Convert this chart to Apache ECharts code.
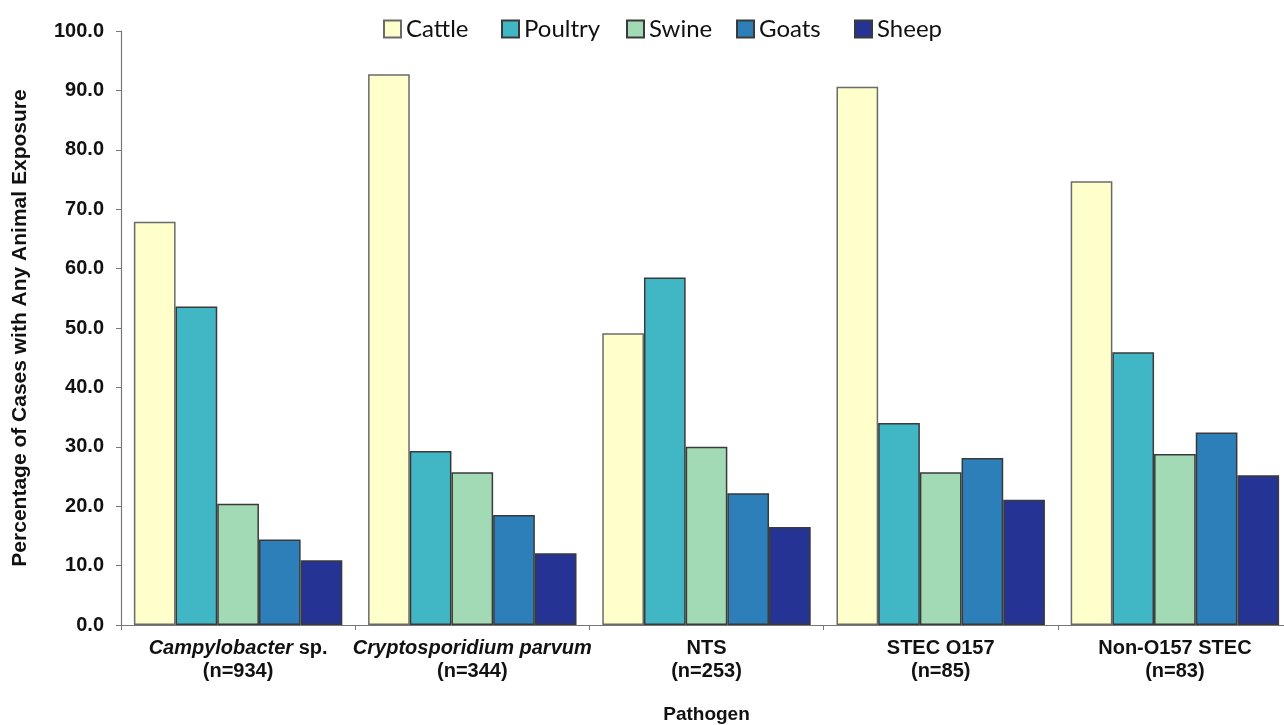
<!DOCTYPE html>
<html>
<head>
<meta charset="utf-8">
<script src="https://cdn.jsdelivr.net/npm/echarts@6/dist/echarts.min.js"></script>
<style>
html,body{margin:0;padding:0;background:#fff;}
#chart{width:1284px;height:725px;}
</style>
</head>
<body>
<div id="chart"></div>
<script>
// Data
const italicParts = ['Campylobacter', 'Cryptosporidium parvum', '', '', ''];
const plainParts = [' sp.', '', 'NTS', 'STEC O157', 'Non-O157 STEC'];
const nValues = [934, 344, 253, 85, 83];
const categories = ['Campylobacter sp.', 'Cryptosporidium parvum', 'NTS', 'STEC O157', 'Non-O157 STEC'];
const seriesNames = ['Cattle', 'Poultry', 'Swine', 'Goats', 'Sheep'];
const cattle  = [67.9, 92.7, 49.1, 90.6, 74.7];
const poultry = [53.6, 29.3, 58.5, 34.0, 45.9];
const swine   = [20.4, 25.7, 30.0, 25.7, 28.8];
const goats   = [14.4, 18.5, 22.2, 28.1, 32.4];
const sheep   = [10.9, 12.1, 16.5, 21.1, 25.2];
const yTicks = [0, 10, 20, 30, 40, 50, 60, 70, 80, 90, 100];

const colors = ['#FFFFCC', '#41B6C4', '#A1DAB4', '#2C7FB8', '#253494'];
const seriesData = [cattle, poultry, swine, goats, sheep];
const legendLefts = [378, 496, 621, 731, 849];

const chart = echarts.init(document.getElementById('chart'), null, {renderer: 'canvas'});
const boldFont = 'Liberation Sans, Arial, sans-serif';

const option = {
  backgroundColor: '#ffffff',
  animation: false,
  legend: seriesNames.map((n, i) => ({
    data: [n],
    left: legendLefts[i],
    top: 12,
    itemWidth: 17,
    itemHeight: 17,
    icon: 'rect',
    textStyle: {fontFamily: 'Lato, sans-serif', fontSize: 24, color: '#111'}
  })),
  grid: {left: 121, top: 31, right: -8, bottom: 100, containLabel: false, outerBoundsMode: 'none'},
  xAxis: {
    type: 'category',
    data: categories,
    name: 'Pathogen',
    nameLocation: 'middle',
    nameGap: 80,
    nameTextStyle: {fontFamily: boldFont, fontWeight: 'bold', fontSize: 19, color: '#111', verticalAlign: 'top'},
    axisLine: {lineStyle: {color: '#777', width: 1.2}},
    axisTick: {show: true, length: 5, lineStyle: {color: '#777'}},
    axisLabel: {
      margin: 12,
      interval: 0,
      formatter: function (v, idx) {
        let line1 = '';
        if (italicParts[idx]) line1 += '{i|' + italicParts[idx] + '}';
        if (plainParts[idx]) line1 += '{b|' + plainParts[idx] + '}';
        return line1 + '\n{b|(n=' + nValues[idx] + ')}';
      },
      rich: {
        i: {fontFamily: boldFont, fontWeight: 'bold', fontStyle: 'italic', fontSize: 20, color: '#111', lineHeight: 23},
        b: {fontFamily: boldFont, fontWeight: 'bold', fontSize: 20, color: '#111', lineHeight: 23}
      }
    }
  },
  yAxis: {
    type: 'value',
    min: 0,
    max: 100,
    interval: 10,
    name: 'Percentage of Cases with Any Animal Exposure',
    nameLocation: 'middle',
    nameGap: 90,
    nameTextStyle: {fontFamily: boldFont, fontWeight: 'bold', fontSize: 21, color: '#111'},
    axisLine: {show: true, lineStyle: {color: '#777', width: 1.2}},
    axisTick: {show: true, length: 5, lineStyle: {color: '#777'}},
    splitLine: {show: false},
    axisLabel: {
      margin: 17,
      fontFamily: boldFont, fontWeight: 'bold', fontSize: 20, color: '#111',
      formatter: v => (yTicks.includes(v) ? v.toFixed(1) : '')
    }
  },
  series: seriesNames.map((n, i) => ({
    name: n,
    type: 'bar',
    data: seriesData[i],
    barGap: '0%',
    barCategoryGap: '11%',
    itemStyle: {color: colors[i], borderColor: i === 0 ? '#6a6a6a' : '#3a3a3a', borderWidth: 1.5}
  }))
};
chart.setOption(option);
</script>
</body>
</html>
